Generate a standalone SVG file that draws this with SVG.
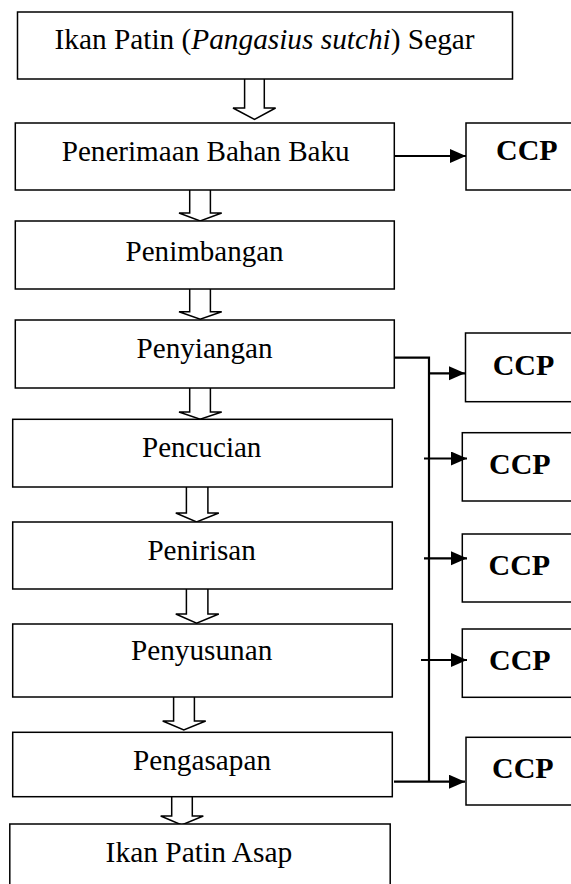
<svg xmlns="http://www.w3.org/2000/svg" width="571" height="884" viewBox="0 0 571 884">
<style>
.box{fill:#fff;stroke:#000;stroke-width:1.5}
.t{font-family:"Liberation Serif","Times New Roman",serif;font-size:28.5px;fill:#000}
.c{font-family:"Liberation Serif","Times New Roman",serif;font-size:30px;font-weight:bold;fill:#000}
.blk{fill:#fff;stroke:#000;stroke-width:1.5;stroke-linejoin:miter}
.ln{fill:none;stroke:#000;stroke-width:2.2}
</style>
<defs>
<marker id="ah" markerUnits="userSpaceOnUse" markerWidth="17" markerHeight="15" refX="16" refY="7" orient="auto">
<path d="M0,0 L16,7 L0,14 Z" fill="#000"/>
</marker>
</defs>
<rect width="571" height="884" fill="#fff"/>

<g id="flow-arrows">
<path class="blk" d="M244.6,79 V108 H233 L254.5,119.3 L275.6,108 H264.3 V79"/>
<path class="blk" d="M189.7,190 V213 H179 L200.2,221 L221.7,213 H210.4 V190"/>
<path class="blk" d="M189.7,289 V311.7 H179 L200.2,319.3 L221.7,311.7 H210.4 V289"/>
<path class="blk" d="M189.7,388 V412 H179 L200.2,419.3 L221.7,412 H210.4 V388"/>
<path class="blk" d="M186.4,487 V513 H175.8 L196.6,522 L218.8,513 H207.9 V487"/>
<path class="blk" d="M186.4,589 V614 H175.8 L196.6,623.3 L218.8,614 H207.9 V589"/>
<path class="blk" d="M173.6,697 V721 H162.7 L183.8,730 L205.7,721 H194.4 V697"/>
<path class="blk" d="M171.7,797 V816 H160.7 L181.7,825 L203.3,816 H192.3 V797"/>
</g>

<g id="n1"><rect class="box" x="17.5" y="12" width="495" height="67"/>
<text class="t" x="54.6" y="49" textLength="420" lengthAdjust="spacingAndGlyphs">Ikan Patin (<tspan font-style="italic">Pangasius sutchi</tspan>) Segar</text></g>
<g id="n2"><rect class="box" x="15.3" y="123" width="379" height="67"/>
<text class="t" x="61.7" y="160.5" textLength="288" lengthAdjust="spacingAndGlyphs">Penerimaan Bahan Baku</text></g>
<g id="n3"><rect class="box" x="15.3" y="221" width="379" height="68"/>
<text class="t" x="125.6" y="260.5" textLength="158" lengthAdjust="spacingAndGlyphs">Penimbangan</text></g>
<g id="n4"><rect class="box" x="15.3" y="320" width="379" height="68"/>
<text class="t" x="136.5" y="357.8" textLength="136" lengthAdjust="spacingAndGlyphs">Penyiangan</text></g>
<g id="n5"><rect class="box" x="12.7" y="419.3" width="379.6" height="67.7"/>
<text class="t" x="142" y="457" textLength="119.4" lengthAdjust="spacingAndGlyphs">Pencucian</text></g>
<g id="n6"><rect class="box" x="12.7" y="522" width="379.6" height="67"/>
<text class="t" x="147.4" y="559.5" textLength="108.5" lengthAdjust="spacingAndGlyphs">Penirisan</text></g>
<g id="n7"><rect class="box" x="12.7" y="624" width="379.6" height="73"/>
<text class="t" x="131" y="659.5" textLength="141.3" lengthAdjust="spacingAndGlyphs">Penyusunan</text></g>
<g id="n8"><rect class="box" x="12.7" y="732.3" width="379.6" height="64.4"/>
<text class="t" x="133" y="769.5" textLength="138" lengthAdjust="spacingAndGlyphs">Pengasapan</text></g>
<g id="n9"><rect class="box" x="9.8" y="824" width="380.4" height="70"/>
<text class="t" x="105.6" y="861.5" textLength="186.7" lengthAdjust="spacingAndGlyphs">Ikan Patin Asap</text></g>

<g id="ccp1"><rect class="box" x="466" y="123" width="120" height="67"/>
<text class="c" x="496" y="159.5" font-size="29">CCP</text></g>
<g id="ccp2"><rect class="box" x="465.5" y="333" width="120" height="68.7"/>
<text class="c" x="492.7" y="375">CCP</text></g>
<g id="ccp3"><rect class="box" x="462.3" y="432.7" width="120" height="68.3"/>
<text class="c" x="489" y="473.5">CCP</text></g>
<g id="ccp4"><rect class="box" x="462.3" y="534" width="120" height="68"/>
<text class="c" x="488.5" y="574.5">CCP</text></g>
<g id="ccp5"><rect class="box" x="462.3" y="629" width="120" height="68.3"/>
<text class="c" x="489" y="669.5">CCP</text></g>
<g id="ccp6"><rect class="box" x="466" y="737.3" width="120" height="67.7"/>
<text class="c" x="492" y="778">CCP</text></g>

<g id="connectors">
<line class="ln" x1="395" y1="156" x2="466" y2="156" marker-end="url(#ah)"/>
<path class="ln" d="M394,357.7 H429 V781.7"/>
<line class="ln" x1="429" y1="373.3" x2="465" y2="373.3" marker-end="url(#ah)"/>
<line class="ln" x1="424" y1="458.5" x2="467" y2="458.5" marker-end="url(#ah)"/>
<line class="ln" x1="424" y1="558.3" x2="467" y2="558.3" marker-end="url(#ah)"/>
<line class="ln" x1="421" y1="660" x2="467" y2="660" marker-end="url(#ah)"/>
<line class="ln" x1="394" y1="781.7" x2="465" y2="781.7" stroke-width="2.6" marker-end="url(#ah)"/>
</g>
</svg>
